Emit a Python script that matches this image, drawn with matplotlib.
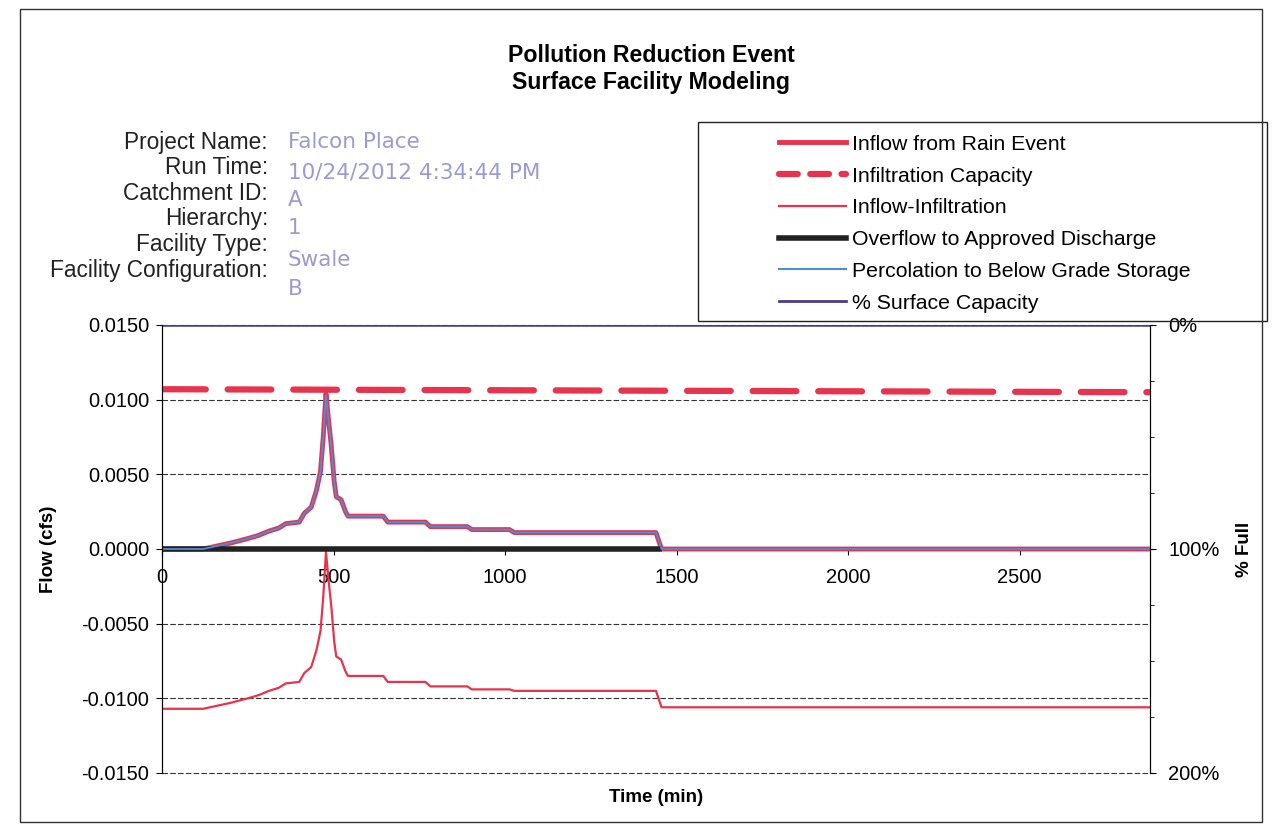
import matplotlib
matplotlib.use("Agg")
import matplotlib.pyplot as plt
from matplotlib.patches import Rectangle
from matplotlib.lines import Line2D
import numpy as np

plt.rcParams['font.family'] = ['Liberation Sans', 'DejaVu Sans']

# --- data (time in minutes, flow in cfs) ---
time_min = [0, 120, 160, 200, 250, 280, 312, 340, 361, 400, 415, 435, 450, 462, 470,
            478, 486, 493, 502, 508, 522, 535, 542, 645, 658, 768, 782, 890, 903, 1013,
            1027, 1440, 1456, 2880]
inflow = [0, 0, 0.0002, 0.0004, 0.0007, 0.0009, 0.0012, 0.0014, 0.0017, 0.0018, 0.0024,
          0.0028, 0.0039, 0.0052, 0.0075, 0.0104, 0.0085, 0.0070, 0.0045, 0.0035, 0.0033,
          0.0025, 0.0022, 0.0022, 0.0018, 0.0018, 0.0015, 0.0015, 0.0013, 0.0013, 0.0011,
          0.0011, 0, 0]
percolation = [0, 0, 0.0002, 0.0004, 0.0007, 0.0009, 0.0012, 0.0014, 0.0017, 0.0018, 0.0024,
               0.0028, 0.0039, 0.0052, 0.0075, 0.0103, 0.0085, 0.0070, 0.0045, 0.0035, 0.0033,
               0.0025, 0.0022, 0.0022, 0.0018, 0.0018, 0.0015, 0.0015, 0.0013, 0.0013, 0.0011,
               0.0011, 0, 0]
inflow_minus_infil = [-0.0107, -0.0107, -0.0105, -0.0103, -0.0100, -0.0098, -0.0095, -0.0093,
                      -0.0090, -0.0089, -0.0083, -0.0079, -0.0068, -0.0055, -0.0032, -0.0002,
                      -0.0022, -0.0037, -0.0062, -0.0072, -0.0074, -0.0082, -0.0085, -0.0085,
                      -0.0089, -0.0089, -0.0092, -0.0092, -0.0094, -0.0094, -0.0095, -0.0095,
                      -0.0106, -0.0106]
infil_t = [0, 1440, 2880]
infil_cap = [0.0107, 0.0106, 0.0105]
overflow_t = [0, 1450]
overflow = [0, 0]
capacity_t = [0, 2880]
capacity_pct = [0, 0]

info_labels = ["Project Name:", "Run Time:", "Catchment ID:", "Hierarchy:",
               "Facility Type:", "Facility Configuration:"]
info_values = ["Falcon Place", "10/24/2012 4:34:44 PM", "A", "1", "Swale", "B"]

RED = '#e8334e'
BLUE = '#4a8fd8'
PURPLE = '#4a3a8a'
BLACK = '#222222'
FS = 14.5

W, H = 1275, 826
fig = plt.figure(figsize=(W / 100, H / 100), dpi=100)

def fx(px):
    return px / W

def fy(py):
    return 1 - py / H

ax = fig.add_axes([fx(162), fy(773), fx(1150) - fx(162), fy(325) - fy(773)])
ax2 = ax.twinx()

ax.plot(infil_t, infil_cap, color=RED, lw=4.5, dashes=(7, 3.5), dash_capstyle='round', zorder=3)
ax.plot(time_min, inflow, color=RED, lw=3.5, zorder=4)
ax.plot(time_min, inflow_minus_infil, color=RED, lw=1.6, zorder=4)
ax.plot(overflow_t, overflow, color=BLACK, lw=4, zorder=5)
ax.plot(time_min, percolation, color=BLUE, lw=1.3, zorder=6)
ax2.plot(capacity_t, capacity_pct, color=PURPLE, lw=1.8)

ax.set_xlim(0, 2880)
ax.set_ylim(-0.015, 0.015)
yt = np.arange(-0.015, 0.0151, 0.005)
ax.set_yticks(yt)
ax.set_yticklabels(['%.4f' % v for v in yt])
ax.set_xticks([0, 500, 1000, 1500, 2000, 2500])
ax.spines['bottom'].set_position(('data', 0))
ax.spines['top'].set_visible(False)
ax.tick_params(axis='x', direction='out', length=4, labelsize=FS, pad=10)
ax.tick_params(axis='y', direction='out', length=4, labelsize=FS, pad=5)
ax.yaxis.grid(True, color='#333333', lw=0.8, ls=(0, (5, 2)))
for gl in ax.get_ygridlines():
    gl.set_clip_on(False)
ax.set_ylabel('Flow (cfs)', fontsize=13.5, fontweight='bold', labelpad=18)
ax.text(0.5, -0.055, 'Time (min)', transform=ax.transAxes, ha='center', va='center',
        fontsize=13.5, fontweight='bold')

ax2.set_ylim(200, 0)
ax2.set_yticks([0, 100, 200])
ax2.set_yticklabels(['0%', '100%', '200%'])
ax2.set_yticks(np.arange(0, 201, 25), minor=True)
ax2.tick_params(axis='y', which='major', direction='out', length=4, labelsize=FS, pad=9)
ax2.tick_params(axis='y', which='minor', direction='out', length=3)
ax2.spines['top'].set_visible(False)
ax2.spines['bottom'].set_visible(False)
ax2.set_ylabel('% Full', fontsize=13.5, fontweight='bold', labelpad=12)

# title
fig.text(fx(651), fy(55), 'Pollution Reduction Event', ha='center', va='center',
         fontsize=16.7, fontweight='bold')
fig.text(fx(651), fy(83), 'Surface Facility Modeling', ha='center', va='center',
         fontsize=16.7, fontweight='bold')

# info block
label_y = [142, 168, 193, 219, 244, 271]
value_y = [142, 172, 200, 228, 260, 289]
for lab, yy in zip(info_labels, label_y):
    fig.text(fx(268), fy(yy), lab, ha='right', va='center', fontsize=16.3, color='#222222')
for val, yy in zip(info_values, value_y):
    fig.text(fx(288), fy(yy), val, ha='left', va='center', fontsize=15.5,
             family='DejaVu Sans', color='#9a9ad6')

# legend box
fig.patches.append(Rectangle((fx(698), fy(321)), fx(1267) - fx(698), fy(122) - fy(321),
                             transform=fig.transFigure, fill=False, ec='#222222', lw=1))
handles = [
    Line2D([], [], color=RED, lw=3.5),
    Line2D([], [], color=RED, lw=4.5, dashes=(3, 2), dash_capstyle='round'),
    Line2D([], [], color=RED, lw=1.6),
    Line2D([], [], color=BLACK, lw=4),
    Line2D([], [], color=BLUE, lw=1.5),
    Line2D([], [], color=PURPLE, lw=2),
]
labels = ['Inflow from Rain Event', 'Infiltration Capacity', 'Inflow-Infiltration',
          'Overflow to Approved Discharge', 'Percolation to Below Grade Storage',
          '% Surface Capacity']
fig.legend(handles, labels, loc='upper left', bbox_to_anchor=(fx(764), fy(120)),
           frameon=False, fontsize=15.3, handlelength=3.15, handletextpad=0.28,
           labelspacing=0.6, borderpad=0.2)

# outer frame
fig.patches.append(Rectangle((fx(20), fy(822)), fx(1262) - fx(20), fy(9) - fy(822),
                             transform=fig.transFigure, fill=False, ec='#333333', lw=1))

fig.savefig('out.png', dpi=100)
